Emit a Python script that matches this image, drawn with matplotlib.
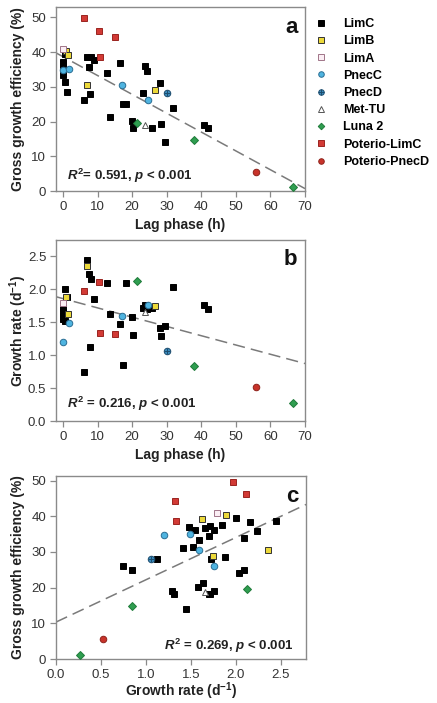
import numpy as np
import matplotlib
matplotlib.use("Agg")
import matplotlib.pyplot as plt

plt.rcParams['font.family'] = ['Liberation Sans', 'DejaVu Sans']
plt.rcParams['mathtext.fontset'] = 'custom'
plt.rcParams['mathtext.rm'] = 'Liberation Sans:bold'
plt.rcParams['mathtext.bf'] = 'Liberation Sans:bold'
plt.rcParams['mathtext.it'] = 'Liberation Sans:italic:bold'

# data: lag phase (h), growth rate (d-1), gross growth efficiency (%)
limc_lag = [0.0, 0.0, 0.0, 0.0, 0.6, 0.7, 1.3, 7.1, 7.5, 8.0, 6.1, 7.8, 9.1, 12.8, 13.5,
            16.5, 17.5, 18.3, 20.1, 20.3, 23.2, 23.7, 24.2, 25.9, 28.2, 28.5, 29.6, 31.8, 40.9, 42.0]
limc_rate = [1.71, 1.66, 1.55, 1.59, 1.52, 2.00, 1.88, 2.45, 2.24, 2.16, 0.74, 1.12, 1.85, 2.09, 1.63,
             1.48, 0.85, 2.09, 1.58, 1.31, 1.72, 1.76, 1.70, 1.71, 1.41, 1.29, 1.45, 2.03, 1.76, 1.70]
limc_gge = [37.2, 36.8, 36.3, 33.4, 31.3, 39.5, 28.5, 38.7, 35.8, 38.5, 26.1, 28.0, 37.7, 34.0, 21.2,
            36.9, 25.0, 25.0, 20.1, 18.1, 28.1, 36.1, 34.6, 18.2, 31.1, 19.2, 14.0, 24.0, 19.1, 18.2]

limb_lag = [1.0, 1.5, 7.1, 26.5]
limb_rate = [1.89, 1.62, 2.36, 1.75]
limb_gge = [40.4, 39.3, 30.5, 29.0]

lima_lag = [0.0]
lima_rate = [1.79]
lima_gge = [41.0]

pnecc_lag = [0.0, 1.9, 17.1, 24.6]
pnecc_rate = [1.20, 1.49, 1.59, 1.76]
pnecc_gge = [34.8, 35.1, 30.5, 26.2]

pnecd_lag = [30.0]
pnecd_rate = [1.06]
pnecd_gge = [28.1]

mettu_lag = [23.7]
mettu_rate = [1.66]
mettu_gge = [18.9]

luna_lag = [21.3, 37.8, 66.6]
luna_rate = [2.12, 0.84, 0.27]
luna_gge = [19.6, 14.8, 1.2]

potlimc_lag = [6.2, 10.4, 15.0, 10.6]
potlimc_rate = [1.97, 2.11, 1.32, 1.33]
potlimc_gge = [49.7, 46.2, 44.4, 38.7]

potpnecd_lag = [55.7]
potpnecd_rate = [0.52]
potpnecd_gge = [5.5]

# regression lines (intercept, slope) as printed
fit_a = (38.7, -0.543)
fit_b = (1.86, -0.0141)
fit_c = (10.35, 11.86)

groups = [
    ("LimC", limc_lag, limc_rate, limc_gge, dict(marker='s', mfc='black', mec='black')),
    ("LimB", limb_lag, limb_rate, limb_gge, dict(marker='s', mfc='#ecd93a', mec='#333333')),
    ("LimA", lima_lag, lima_rate, lima_gge, dict(marker='s', mfc='#fbeef4', mec='#a07488')),
    ("PnecC", pnecc_lag, pnecc_rate, pnecc_gge, dict(marker='o', mfc='#4fb4e0', mec='#2a6e94')),
    ("PnecD", pnecd_lag, pnecd_rate, pnecd_gge, dict(marker='o', mfc='#3a8bbd', mec='#1d4d6e')),
    ("Met-TU", mettu_lag, mettu_rate, mettu_gge, dict(marker='^', mfc='white', mec='#555555')),
    ("Luna 2", luna_lag, luna_rate, luna_gge, dict(marker='D', mfc='#2f9e50', mec='#1f7a3a')),
    ("Poterio-LimC", potlimc_lag, potlimc_rate, potlimc_gge, dict(marker='s', mfc='#d23a35', mec='#9a2420')),
    ("Poterio-PnecD", potpnecd_lag, potpnecd_rate, potpnecd_gge, dict(marker='o', mfc='#c8332a', mec='#8e221b')),
]

W, H = 437, 703
fig = plt.figure(figsize=(W / 100, H / 100), dpi=100)

def box(left, top, right, bottom):
    return [left / W, 1 - bottom / H, (right - left) / W, (bottom - top) / H]

ax_a = fig.add_axes(box(56, 7, 305, 191))
ax_b = fig.add_axes(box(56, 240, 305, 421))
ax_c = fig.add_axes(box(56, 476, 306, 659))

sizes = {'s': 4.3, 'o': 4.7, '^': 4.8, 'D': 3.9}

def draw(ax, xkey, ykey):
    hs = []
    for name, lag, rate, gge, st in groups:
        d = {'lag': lag, 'rate': rate, 'gge': gge}
        h, = ax.plot(d[xkey], d[ykey], ls='none', ms=sizes[st['marker']], mew=0.7,
                     clip_on=False, zorder=3, **st)
        if name == "PnecD":
            h2, = ax.plot(d[xkey], d[ykey], ls='none', marker='+', ms=4.7, mew=0.7,
                          color='#1d4d6e', clip_on=False, zorder=4)
            hs.append((h, h2))
        else:
            hs.append(h)
    return hs

handles = draw(ax_a, 'lag', 'gge')
draw(ax_b, 'lag', 'rate')
draw(ax_c, 'rate', 'gge')

for ax, fit, xl in [(ax_a, fit_a, (-2, 70)), (ax_b, fit_b, (-2, 70)), (ax_c, fit_c, (0, 2.78))]:
    xx = np.array(xl)
    ax.plot(xx, fit[0] + fit[1] * xx, ls=(0, (8, 4)), color='#7a7a7a', lw=1.1, zorder=2)
    ax.set_xlim(*xl)

ax_a.set_ylim(0, 53)
ax_a.set_yticks([0, 10, 20, 30, 40, 50])
ax_a.set_xticks(range(0, 71, 10))
ax_b.set_ylim(0, 2.75)
ax_b.set_yticks([0.0, 0.5, 1.0, 1.5, 2.0, 2.5])
ax_b.set_yticklabels(['0.0', '0.5', '1.0', '1.5', '2.0', '2.5'])
ax_b.set_xticks(range(0, 71, 10))
ax_c.set_ylim(0, 51.3)
ax_c.set_yticks([0, 10, 20, 30, 40, 50])
ax_c.set_xticks([0.0, 0.5, 1.0, 1.5, 2.0, 2.5])
ax_c.set_xticklabels(['0.0', '0.5', '1.0', '1.5', '2.0', '2.5'])

lab = dict(fontsize=10, fontweight='bold', color='#222222')
ax_a.set_xlabel("Lag phase (h)", va='center', **lab)
ax_a.set_ylabel("Gross growth efficiency (%)", va='center', **lab)
ax_b.set_xlabel("Lag phase (h)", va='center', **lab)
ax_b.set_ylabel(r"Growth rate (d$^{-1}$)", va='center', **lab)
ax_c.set_xlabel(r"Growth rate (d$^{-1}$)", va='center', **lab)
ax_c.set_ylabel("Gross growth efficiency (%)", va='center', **lab)

# label centres, in pixels from the axes box
for ax, h_px, below in [(ax_a, 184, 34), (ax_b, 181, 34), (ax_c, 183, 32)]:
    ax.xaxis.set_label_coords(0.5, -below / h_px)
    ax.yaxis.set_label_coords(-38 / 249, 0.5)

for ax, letter in [(ax_a, 'a'), (ax_b, 'b'), (ax_c, 'c')]:
    for sp in ax.spines.values():
        sp.set_color('#8a8a8a')
        sp.set_linewidth(1.0)
    ax.tick_params(direction='out', length=4, width=0.9, color='#8a8a8a',
                   labelsize=9.5, labelcolor='#333333', pad=3)
    ax.text(0.97, 0.89, letter, transform=ax.transAxes, ha='right', va='center',
            fontsize=16, fontweight='bold', color='#111111')

stat = dict(fontsize=9.5, fontweight='bold', color='#222222', va='center')
ax_a.text(0.045, 0.08, r"$R^2$= 0.591, $p$ < 0.001", transform=ax_a.transAxes, **stat)
ax_b.text(0.045, 0.094, r"$R^2$ = 0.216, $p$ < 0.001", transform=ax_b.transAxes, **stat)
ax_c.text(0.43, 0.07, r"$R^2$ = 0.269, $p$ < 0.001", transform=ax_c.transAxes, **stat)

names = [g[0] for g in groups]
fig.legend(handles, names, loc='upper left', bbox_to_anchor=(317 / W, 1 - 18 / H),
           frameon=False, handlelength=0.7, handletextpad=1.4, labelspacing=0.42,
           borderaxespad=0, borderpad=0, markerscale=0.85,
           prop={'family': 'Liberation Sans', 'weight': 'bold', 'size': 9})

fig.savefig("out.png", dpi=100)
